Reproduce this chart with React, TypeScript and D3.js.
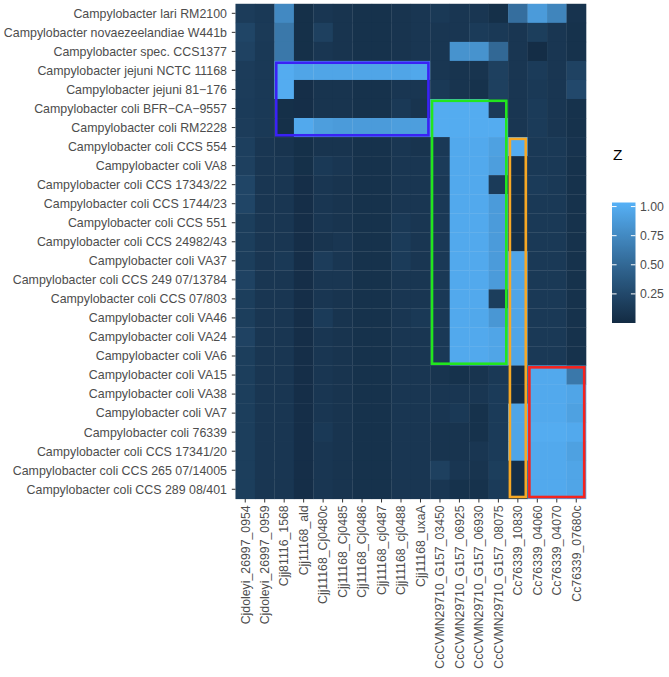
import React from "react";
import * as d3 from "d3";

const strains: string[] = [
  "Campylobacter lari RM2100",
  "Campylobacter novaezeelandiae W441b",
  "Campylobacter spec. CCS1377",
  "Campylobacter jejuni NCTC 11168",
  "Campylobacter jejuni 81\u2212176",
  "Campylobacter coli BFR\u2212CA\u22129557",
  "Campylobacter coli RM2228",
  "Campylobacter coli CCS 554",
  "Campylobacter coli VA8",
  "Campylobacter coli CCS 17343/22",
  "Campylobacter coli CCS 1744/23",
  "Campylobacter coli CCS 551",
  "Campylobacter coli CCS 24982/43",
  "Campylobacter coli VA37",
  "Campylobacter coli CCS 249 07/13784",
  "Campylobacter coli CCS 07/803",
  "Campylobacter coli VA46",
  "Campylobacter coli VA24",
  "Campylobacter coli VA6",
  "Campylobacter coli VA15",
  "Campylobacter coli VA38",
  "Campylobacter coli VA7",
  "Campylobacter coli 76339",
  "Campylobacter coli CCS 17341/20",
  "Campylobacter coli CCS 265 07/14005",
  "Campylobacter coli CCS 289 08/401",
];

const genes: string[] = [
  "Cjdoleyi_26997_0954",
  "Cjdoleyi_26997_0959",
  "Cjj81116_1568",
  "Cjj11168_ald",
  "Cjj11168_Cj0480c",
  "Cjj11168_Cj0485",
  "Cjj11168_Cj0486",
  "Cjj11168_cj0487",
  "Cjj11168_cj0488",
  "Cjj11168_uxaA",
  "CcCVMN29710_G157_03450",
  "CcCVMN29710_G157_06925",
  "CcCVMN29710_G157_06930",
  "CcCVMN29710_G157_08075",
  "Cc76339_10830",
  "Cc76339_04060",
  "Cc76339_04070",
  "Cc76339_07680c",
];

// Z values: one row per strain, one column per gene
const zValues: number[][] = [
  [0.15, 0.12, 0.75, 0.04, 0.10, 0.08, 0.06, 0.06, 0.08, 0.10, 0.12, 0.10, 0.10, 0.04, 0.55, 0.88, 0.72, 0.07],
  [0.22, 0.13, 0.62, 0.04, 0.18, 0.08, 0.06, 0.06, 0.08, 0.10, 0.10, 0.10, 0.14, 0.12, 0.10, 0.16, 0.10, 0.06],
  [0.20, 0.12, 0.62, 0.04, 0.10, 0.08, 0.06, 0.06, 0.08, 0.10, 0.10, 0.82, 0.82, 0.50, 0.10, 0.02, 0.10, 0.06],
  [0.15, 0.12, 1.00, 0.95, 0.95, 0.95, 0.95, 0.95, 0.95, 0.97, 0.10, 0.08, 0.08, 0.18, 0.10, 0.14, 0.10, 0.20],
  [0.15, 0.12, 1.00, 0.03, 0.08, 0.08, 0.06, 0.06, 0.10, 0.10, 0.12, 0.08, 0.06, 0.18, 0.10, 0.12, 0.10, 0.25],
  [0.14, 0.12, 0.04, 0.03, 0.08, 0.08, 0.06, 0.06, 0.12, 0.08, 1.00, 1.00, 1.00, 0.14, 0.10, 0.14, 0.10, 0.06],
  [0.15, 0.12, 0.04, 0.98, 0.90, 0.88, 0.88, 0.88, 0.90, 0.90, 1.00, 1.00, 1.00, 1.00, 0.10, 0.14, 0.10, 0.06],
  [0.17, 0.10, 0.08, 0.04, 0.08, 0.08, 0.06, 0.06, 0.10, 0.08, 0.12, 0.98, 0.98, 0.92, 1.00, 0.12, 0.12, 0.07],
  [0.18, 0.10, 0.10, 0.04, 0.12, 0.10, 0.06, 0.06, 0.10, 0.10, 0.14, 0.98, 0.98, 0.90, 0.03, 0.12, 0.12, 0.06],
  [0.22, 0.10, 0.10, 0.03, 0.10, 0.08, 0.06, 0.06, 0.10, 0.10, 0.12, 0.98, 0.98, 0.14, 0.04, 0.14, 0.12, 0.06],
  [0.22, 0.10, 0.10, 0.03, 0.10, 0.08, 0.06, 0.06, 0.10, 0.10, 0.12, 0.98, 0.98, 0.88, 0.04, 0.12, 0.12, 0.06],
  [0.16, 0.10, 0.10, 0.03, 0.10, 0.08, 0.06, 0.06, 0.12, 0.10, 0.12, 0.98, 0.98, 0.88, 0.04, 0.12, 0.12, 0.06],
  [0.16, 0.10, 0.10, 0.03, 0.08, 0.10, 0.06, 0.06, 0.14, 0.10, 0.12, 0.98, 0.98, 0.88, 0.04, 0.12, 0.12, 0.06],
  [0.16, 0.10, 0.12, 0.03, 0.15, 0.10, 0.06, 0.06, 0.14, 0.10, 0.12, 0.98, 0.98, 0.88, 0.95, 0.12, 0.12, 0.06],
  [0.20, 0.10, 0.10, 0.03, 0.10, 0.10, 0.06, 0.06, 0.10, 0.10, 0.12, 0.98, 0.98, 0.88, 0.95, 0.12, 0.12, 0.06],
  [0.16, 0.10, 0.10, 0.03, 0.10, 0.08, 0.06, 0.06, 0.10, 0.10, 0.12, 0.98, 0.98, 0.16, 0.95, 0.12, 0.12, 0.06],
  [0.16, 0.10, 0.10, 0.03, 0.14, 0.08, 0.06, 0.06, 0.10, 0.12, 0.12, 0.98, 0.97, 0.85, 0.95, 0.12, 0.12, 0.06],
  [0.20, 0.10, 0.10, 0.03, 0.10, 0.08, 0.06, 0.06, 0.10, 0.10, 0.12, 0.98, 0.98, 0.95, 0.95, 0.12, 0.12, 0.06],
  [0.16, 0.10, 0.10, 0.03, 0.10, 0.08, 0.06, 0.06, 0.10, 0.10, 0.12, 0.98, 0.98, 0.95, 0.95, 0.12, 0.12, 0.06],
  [0.16, 0.10, 0.10, 0.03, 0.10, 0.08, 0.06, 0.06, 0.10, 0.10, 0.08, 0.06, 0.08, 0.12, 0.03, 0.98, 0.98, 0.62],
  [0.16, 0.10, 0.10, 0.03, 0.10, 0.08, 0.06, 0.06, 0.10, 0.10, 0.10, 0.10, 0.10, 0.14, 0.03, 0.98, 0.98, 0.95],
  [0.16, 0.10, 0.10, 0.03, 0.10, 0.08, 0.06, 0.06, 0.10, 0.10, 0.10, 0.12, 0.06, 0.14, 0.95, 0.98, 0.98, 0.92],
  [0.16, 0.10, 0.10, 0.03, 0.12, 0.08, 0.06, 0.06, 0.10, 0.10, 0.08, 0.08, 0.06, 0.14, 0.95, 1.00, 1.00, 0.98],
  [0.16, 0.10, 0.10, 0.03, 0.10, 0.08, 0.06, 0.06, 0.10, 0.10, 0.08, 0.08, 0.10, 0.14, 0.95, 0.98, 0.98, 0.92],
  [0.16, 0.10, 0.10, 0.03, 0.10, 0.08, 0.06, 0.06, 0.10, 0.10, 0.18, 0.10, 0.08, 0.16, 0.03, 0.98, 0.98, 0.95],
  [0.16, 0.10, 0.10, 0.03, 0.10, 0.08, 0.06, 0.06, 0.10, 0.10, 0.10, 0.06, 0.06, 0.14, 0.04, 0.98, 0.98, 0.95],
];

const legendTicks: number[] = [0.25, 0.5, 0.75, 1.0];
const zLimits: [number, number] = [0, 1.035];

// highlight boxes: [first gene, last gene, first strain, last strain, colour]
const boxGeneFrom: number[] = [2, 10, 14, 15];
const boxGeneTo: number[] = [9, 13, 14, 17];
const boxStrainFrom: number[] = [3, 5, 7, 19];
const boxStrainTo: number[] = [6, 18, 25, 25];
const boxColors: string[] = ["#3a22f5", "#22e61e", "#f7a825", "#f5231e"];

const W = 669;
const H = 677;
const panel = { left: 235.5, right: 586, top: 3.8, bottom: 498.8 };
const FONT = "'Liberation Sans', Arial, Helvetica, sans-serif";

export default function App() {
  const x = d3.scaleBand<string>().domain(genes).range([panel.left, panel.right]).padding(0);
  const y = d3.scaleBand<string>().domain(strains).range([panel.top, panel.bottom]).padding(0);
  const color = d3
    .scaleLinear<string>()
    .domain(zLimits)
    .range(["#132B43", "#56B1F7"])
    .interpolate(d3.interpolateLab);

  const bar = { x: 612, w: 23.5, top: 202.5, bottom: 323 };
  const ly = d3.scaleLinear().domain(zLimits).range([bar.bottom, bar.top]);
  const nb = 40;
  const stops = d3.range(nb + 1).map((i) => zLimits[0] + ((zLimits[1] - zLimits[0]) * i) / nb);

  const inset = 1.8;

  return (
    <svg width={W} height={H} style={{ position: "absolute", left: 0, top: 0, background: "#fff" }} fontFamily={FONT}>
      <defs>
        <linearGradient id="zgrad" x1="0" y1="1" x2="0" y2="0">
          {stops.map((v, i) => (
            <stop key={i} offset={i / nb} stopColor={color(v)} />
          ))}
        </linearGradient>
      </defs>
      <rect x={0} y={0} width={W} height={H} fill="#fff" />
      <rect
        x={panel.left}
        y={panel.top}
        width={panel.right - panel.left}
        height={panel.bottom - panel.top}
        fill="#EBEBEB"
      />
      {zValues.map((row, ri) =>
        row.map((v, ci) => (
          <rect
            key={`${ri}-${ci}`}
            x={x(genes[ci])!}
            y={y(strains[ri])!}
            width={x.bandwidth() + 0.3}
            height={y.bandwidth() + 0.3}
            fill={color(v)}
          />
        ))
      )}
      {boxColors.map((c, i) => {
        const x0 = x(genes[boxGeneFrom[i]])! + inset;
        const x1 = x(genes[boxGeneTo[i]])! + x.bandwidth() - inset;
        const y0 = y(strains[boxStrainFrom[i]])! + inset;
        const y1 = y(strains[boxStrainTo[i]])! + y.bandwidth() - inset;
        return (
          <rect key={i} x={x0} y={y0} width={x1 - x0} height={y1 - y0} fill="none" stroke={c} strokeWidth={2.6} />
        );
      })}
      {/* y axis */}
      {strains.map((s) => {
        const cy = y(s)! + y.bandwidth() / 2;
        return (
          <g key={s}>
            <line x1={panel.left - 3.7} x2={panel.left} y1={cy} y2={cy} stroke="#333333" strokeWidth={1} />
            <text x={panel.left - 8.5} y={cy} dy="0.35em" textAnchor="end" fontSize={12.4} fill="#4D4D4D">
              {s}
            </text>
          </g>
        );
      })}
      {/* x axis */}
      {genes.map((g) => {
        const cx = x(g)! + x.bandwidth() / 2;
        return (
          <g key={g}>
            <line x1={cx} x2={cx} y1={panel.bottom} y2={panel.bottom + 3.7} stroke="#333333" strokeWidth={1} />
            <text
              transform={`translate(${cx},${panel.bottom + 6.5}) rotate(-90)`}
              dy="0.35em"
              textAnchor="end"
              fontSize={12.3}
              fill="#4D4D4D"
            >
              {g}
            </text>
          </g>
        );
      })}
      {/* legend */}
      <text x={bar.x + 1} y={160} fontSize={15.4} fill="#000">
        Z
      </text>
      <rect x={bar.x} y={bar.top} width={bar.w} height={bar.bottom - bar.top} fill="url(#zgrad)" />
      {legendTicks.map((t) => (
        <g key={t}>
          <line x1={bar.x} x2={bar.x + 4.6} y1={ly(t)} y2={ly(t)} stroke="#fff" strokeWidth={1} />
          <line x1={bar.x + bar.w - 4.6} x2={bar.x + bar.w} y1={ly(t)} y2={ly(t)} stroke="#fff" strokeWidth={1} />
          <text x={bar.x + bar.w + 4.5} y={ly(t)} dy="0.35em" fontSize={12.3} fill="#4D4D4D">
            {t.toFixed(2)}
          </text>
        </g>
      ))}
    </svg>
  );
}
